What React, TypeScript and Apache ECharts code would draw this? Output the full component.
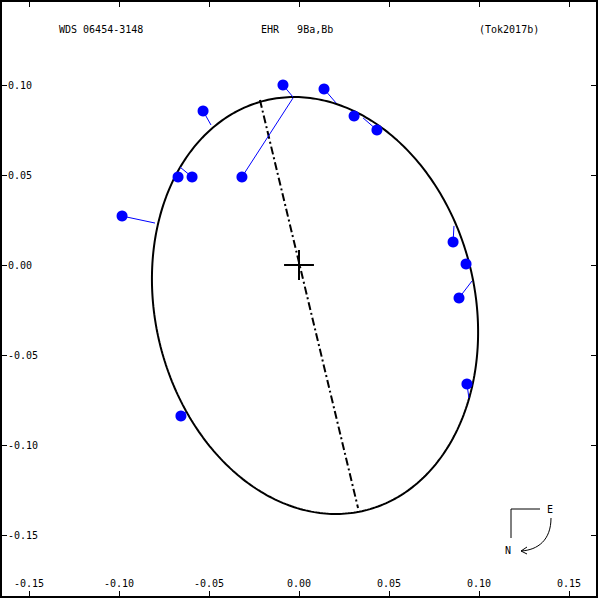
import React, { useEffect, useRef } from "react";
import * as echarts from "echarts";

// Observed positions (x, y in arcsec)
const obsX = [-0.0089, -0.0317, -0.0533, -0.0672, -0.0594, -0.0983, 0.0139, 0.0306, 0.0433, 0.0856, 0.0928, 0.0889, 0.0933, -0.0656];
const obsY = [0.1, 0.0489, 0.0856, 0.0489, 0.0489, 0.0272, 0.0978, 0.0828, 0.075, 0.0128, 0.0006, -0.0183, -0.0661, -0.0839];
// Predicted positions on orbit (ends of residual lines)
const predX = [-0.0033, -0.0033, -0.0489, -0.0683, -0.0661, -0.08, 0.0206, 0.0322, 0.0356, 0.0861, 0.0933, 0.0961, 0.0944, -0.0628];
const predY = [0.0933, 0.0928, 0.0778, 0.0511, 0.0544, 0.0233, 0.09, 0.0825, 0.0817, 0.0217, 0.0017, -0.0089, -0.0739, -0.0817];

// Orbit ellipse (apparent): centre, semi-axes, position angle of major axis
const ELL_CX = 0.0089;
const ELL_CY = -0.0225;
const ELL_A = 0.1172;
const ELL_B = 0.0888;
const ELL_ANGLE_DEG = -76.4;

// Line of nodes end points
const nodesX = [-0.0217, 0.0328];
const nodesY = [0.0917, -0.135];

// Primary cross half-size
const CROSS = 0.0083;

const xTicks = [-0.15, -0.1, -0.05, 0, 0.05, 0.1, 0.15];
const yTicks = [-0.15, -0.1, -0.05, 0, 0.05, 0.1];

const titleLeft = "WDS 06454-3148";
const titleMid = "EHR   9Ba,Bb";
const titleRight = "(Tok2017b)";

const FONT = '"DejaVu Sans Mono", monospace';

function ellipsePoints(): number[][] {
  const th = (ELL_ANGLE_DEG * Math.PI) / 180;
  const pts: number[][] = [];
  for (let i = 0; i <= 360; i++) {
    const t = (i * Math.PI) / 180;
    const c = Math.cos(t);
    const s = Math.sin(t);
    pts.push([
      ELL_CX + ELL_A * c * Math.cos(th) - ELL_B * s * Math.sin(th),
      ELL_CY + ELL_A * c * Math.sin(th) + ELL_B * s * Math.cos(th),
    ]);
  }
  return pts;
}

export default function App() {
  const ref = useRef<HTMLDivElement>(null);
  useEffect(() => {
    if (!ref.current) return;
    const chart = echarts.init(ref.current, undefined, { renderer: "svg" });
    const fmt = (v: number) => v.toFixed(2);
    const axisCommon = {
      type: "value" as const,
      splitLine: { show: false },
      axisLine: { show: false, onZero: false },
    };
    const tick = { inside: true, length: 6, lineStyle: { color: "#000", width: 1 } };
    const option: any = {
      animation: false,
      backgroundColor: "#ffffff",
      grid: { left: 29, top: 85, width: 540, height: 450 },
      xAxis: [
        {
          ...axisCommon,
          min: xTicks[0],
          max: xTicks[xTicks.length - 1],
          interval: 0.05,
          position: "bottom",
          offset: 62,
          axisTick: tick,
          axisLabel: {
            inside: true,
            margin: 9,
            formatter: fmt,
            fontFamily: FONT,
            fontSize: 10,
            color: "#000",
          },
        },
        {
          ...axisCommon,
          min: xTicks[0],
          max: xTicks[xTicks.length - 1],
          interval: 0.05,
          position: "top",
          offset: 84,
          axisTick: tick,
          axisLabel: { show: false },
        },
      ],
      yAxis: [
        {
          ...axisCommon,
          min: yTicks[0],
          max: yTicks[yTicks.length - 1],
          interval: 0.05,
          position: "left",
          offset: 28,
          axisTick: tick,
          axisLabel: {
            inside: true,
            margin: 7,
            formatter: fmt,
            fontFamily: FONT,
            fontSize: 10,
            color: "#000",
          },
        },
        {
          ...axisCommon,
          min: yTicks[0],
          max: yTicks[yTicks.length - 1],
          interval: 0.05,
          position: "right",
          offset: 28,
          axisTick: tick,
          axisLabel: { show: false },
        },
      ],
      series: [
        {
          type: "line",
          data: ellipsePoints(),
          showSymbol: false,
          clip: false,
          lineStyle: { color: "#000", width: 2 },
          z: 2,
        },
        {
          type: "line",
          data: nodesX.map((x, i) => [x, nodesY[i]]),
          showSymbol: false,
          clip: false,
          lineStyle: { color: "#000", width: 2, type: [8, 3, 2, 3] },
          z: 2,
        },
        {
          type: "lines",
          coordinateSystem: "cartesian2d",
          clip: false,
          lineStyle: { color: "#000", width: 2, opacity: 1 },
          data: [
            { coords: [[-CROSS, 0], [CROSS, 0]] },
            { coords: [[0, -CROSS], [0, CROSS]] },
          ],
          z: 3,
        },
        {
          type: "lines",
          coordinateSystem: "cartesian2d",
          clip: false,
          lineStyle: { color: "#0000ff", width: 1, opacity: 1 },
          data: obsX.map((x, i) => ({ coords: [[x, obsY[i]], [predX[i], predY[i]]] })),
          z: 4,
        },
        {
          type: "scatter",
          data: obsX.map((x, i) => [x, obsY[i]]),
          symbol: "circle",
          symbolSize: 11,
          clip: false,
          itemStyle: { color: "#0000ff", opacity: 1 },
          z: 5,
        },
      ],
      graphic: [
        {
          type: "rect",
          shape: { x: 1, y: 1, width: 596, height: 596 },
          style: { fill: "none", stroke: "#000", lineWidth: 2 },
          z: 10,
        },
        {
          type: "text",
          x: 59,
          y: 24,
          style: { text: titleLeft, font: `10px ${FONT}`, fill: "#000", align: "left", verticalAlign: "top" },
        },
        {
          type: "text",
          x: 261,
          y: 24,
          style: { text: titleMid, font: `10px ${FONT}`, fill: "#000", align: "left", verticalAlign: "top" },
        },
        {
          type: "text",
          x: 479,
          y: 24,
          style: { text: titleRight, font: `10px ${FONT}`, fill: "#000", align: "left", verticalAlign: "top" },
        },
        // compass
        {
          type: "polyline",
          shape: { points: [[540, 509], [511, 509], [511, 538]] },
          style: { stroke: "#000", lineWidth: 1, fill: "none" },
        },
        {
          type: "text",
          x: 550,
          y: 509,
          style: { text: "E", font: `10px ${FONT}`, fill: "#000", align: "center", verticalAlign: "middle" },
        },
        {
          type: "text",
          x: 508,
          y: 550,
          style: { text: "N", font: `10px ${FONT}`, fill: "#000", align: "center", verticalAlign: "middle" },
        },
        {
          type: "bezierCurve",
          shape: { x1: 551, y1: 518, cpx1: 551, cpy1: 540, cpx2: 538, cpy2: 550, x2: 521, y2: 551 },
          style: { stroke: "#000", lineWidth: 1, fill: "none" },
        },
        {
          type: "polyline",
          shape: { points: [[527, 547], [521, 551], [527, 554]] },
          style: { stroke: "#000", lineWidth: 1, fill: "none" },
        },
      ],
    };
    chart.setOption(option);
    return () => chart.dispose();
  }, []);
  return (
    <div
      ref={ref}
      style={{ position: "fixed", left: 0, top: 0, width: 600, height: 600, background: "#fff" }}
    />
  );
}
